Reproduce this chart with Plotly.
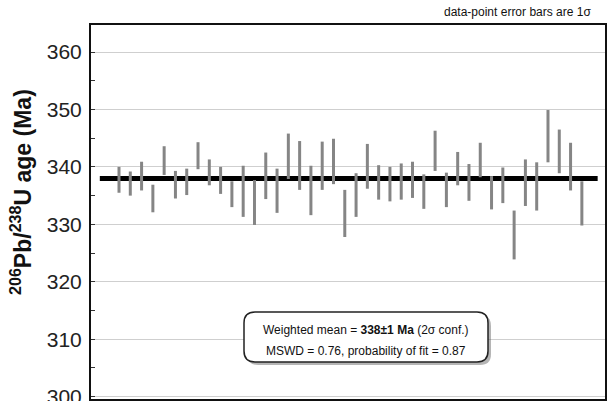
import plotly.graph_objects as go

# ---- data ----
analysis = list(range(1, 43))
age_low = [335.5, 335.0, 335.9, 332.1, 338.6, 334.5, 335.1, 339.6, 336.8, 335.3,
           333.0, 331.3, 329.9, 334.4, 332.0, 337.9, 336.0, 331.6, 336.0, 337.0,
           327.8, 331.3, 336.2, 334.3, 334.0, 334.3, 334.6, 332.7, 339.3, 333.0,
           336.8, 334.1, 338.2, 332.6, 333.7, 323.9, 333.2, 332.4, 340.8, 338.9,
           335.9, 329.8]
age_high = [340.0, 339.2, 340.9, 336.9, 343.6, 339.3, 339.7, 344.3, 341.3, 340.0,
            337.5, 340.2, 337.7, 342.5, 339.7, 345.8, 344.5, 340.2, 344.4, 344.9,
            336.0, 338.9, 344.0, 340.3, 340.0, 340.6, 340.9, 338.7, 346.3, 339.0,
            342.6, 340.5, 344.2, 338.4, 339.9, 332.4, 341.3, 340.8, 349.9, 346.5,
            344.2, 337.5]
weighted_mean = 338.0
mean_extent = [-0.7, 43.4]
y_ticks = [300, 310, 320, 330, 340, 350, 360]

mid = [(a + b) / 2 for a, b in zip(age_low, age_high)]
half = [(b - a) / 2 for a, b in zip(age_low, age_high)]

FONT = "Arial, Liberation Sans, sans-serif"

fig = go.Figure()
fig.add_trace(go.Scatter(
    x=mean_extent, y=[weighted_mean, weighted_mean], mode="lines",
    line=dict(color="black", width=5), hoverinfo="skip", showlegend=False))
fig.add_trace(go.Scatter(
    x=analysis, y=mid, mode="markers",
    marker=dict(size=1, color="rgba(0,0,0,0)"),
    error_y=dict(type="data", array=half, visible=True, width=0,
                 thickness=3, color="#858585"),
    showlegend=False))

# plot-area geometry (pixels) for layout helpers
L, R, T, B = 91, 605, 25, 399
W, H = R - L, B - T


def px(x):
    return (x - L) / W


def py(y):
    return (B - y) / H


def rounded(x0, y0, x1, y1, r):
    return (f"M {px(x0 + r)},{py(y0)} L {px(x1 - r)},{py(y0)} "
            f"Q {px(x1)},{py(y0)} {px(x1)},{py(y0 + r)} "
            f"L {px(x1)},{py(y1 - r)} Q {px(x1)},{py(y1)} {px(x1 - r)},{py(y1)} "
            f"L {px(x0 + r)},{py(y1)} Q {px(x0)},{py(y1)} {px(x0)},{py(y1 - r)} "
            f"L {px(x0)},{py(y0 + r)} Q {px(x0)},{py(y0)} {px(x0 + r)},{py(y0)} Z")


shapes = [
    dict(type="path", xref="paper", yref="paper",
         path=rounded(247, 315, 491, 365, 11),
         fillcolor="rgba(90,90,90,0.45)", line=dict(width=0), layer="above"),
    dict(type="path", xref="paper", yref="paper",
         path=rounded(244, 312, 488, 362, 11),
         fillcolor="white", line=dict(color="#222", width=1.5), layer="above"),
]

annotations = [
    dict(text="data-point error bars are 1σ", xref="paper", yref="paper",
         x=px(593), y=py(12), xanchor="right", yanchor="middle", showarrow=False,
         font=dict(family=FONT, size=12, color="#111")),
    dict(text="Weighted mean = <b>338±1 Ma</b> (2σ conf.)", xref="paper", yref="paper",
         x=px(366), y=py(330), xanchor="center", yanchor="middle", showarrow=False,
         font=dict(family=FONT, size=12, color="#111")),
    dict(text="MSWD = 0.76, probability of fit = 0.87", xref="paper", yref="paper",
         x=px(366), y=py(351), xanchor="center", yanchor="middle", showarrow=False,
         font=dict(family=FONT, size=12, color="#111")),
    dict(text="<b><sup>206</sup>Pb/<sup>238</sup>U age (Ma)</b>", xref="paper", yref="paper",
         x=px(21), y=py(192), xanchor="center", yanchor="middle", textangle=-90,
         showarrow=False, font=dict(family=FONT, size=23, color="#111")),
]

fig.update_layout(
    width=608, height=401,
    margin=dict(l=L, r=608 - R, t=T, b=401 - B, autoexpand=False),
    paper_bgcolor="white", plot_bgcolor="white",
    shapes=shapes, annotations=annotations,
    xaxis=dict(range=[-1.48, 44.05], showgrid=False, zeroline=False,
               showticklabels=False, ticks="", showline=True, mirror=True,
               linecolor="#111", linewidth=2, automargin=False),
    yaxis=dict(range=[299.6, 364.7], tickmode="array", tickvals=y_ticks,
               showgrid=True, gridcolor="#cfcfcf", gridwidth=1, zeroline=False,
               ticks="inside", ticklen=4, tickcolor="#333", ticklabelstandoff=3,
               ticklabeloverflow="allow", automargin=False,
               minor=dict(ticks="inside", tickmode="linear", tick0=300, dtick=5,
                          ticklen=4, tickcolor="#333", showgrid=False),
               tickfont=dict(family=FONT, size=21, color="#222"),
               showline=True, mirror=True, linecolor="#111", linewidth=2),
)

fig.write_html("out.html")
